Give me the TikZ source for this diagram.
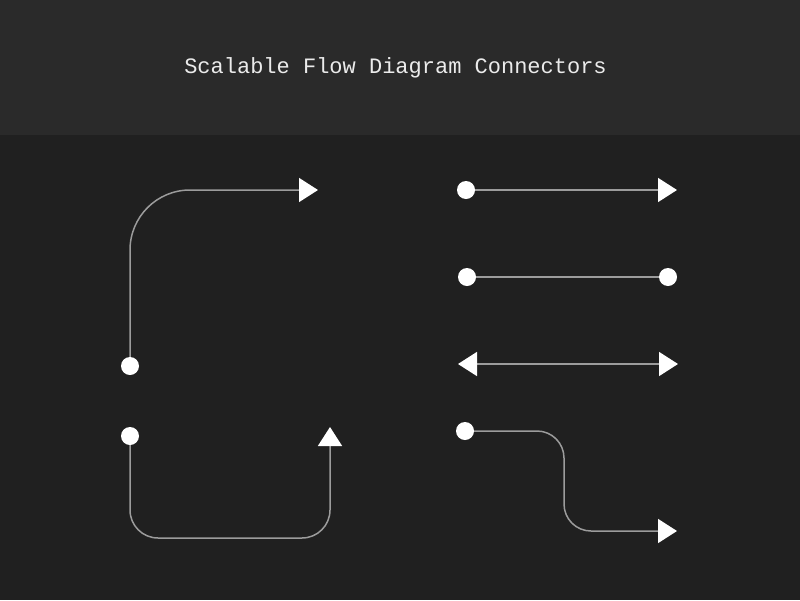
\documentclass[tikz,border=0pt]{standalone}
\usepackage{fontspec}
\setmonofont{Liberation Mono}
\usetikzlibrary{arrows.meta}
\definecolor{headbg}{HTML}{2A2A2A}
\definecolor{bodybg}{HTML}{202020}
\definecolor{wire}{HTML}{9C9C9C}
\tikzset{
  dot/.style={circle,fill=white,minimum size=18pt,inner sep=0pt},
  tip/.tip={Triangle[length=19pt,width=24pt,color=white]},
  conn/.style={draw=wire,line width=1.5pt},
}

\begin{document}
\begin{tikzpicture}[x=1pt,y=-1pt]
				\fill[bodybg] (0,0) rectangle (800,600);
				\fill[headbg] (0,0) rectangle (800,135);
				\node[text=white!92!black,font=\ttfamily\fontsize{22}{26}\selectfont] (title) at (395.5,68) {Scalable Flow Diagram Connectors};
				\node[dot] (a) at (130,366) {};
				\coordinate (a') at (318,190);
				\node[dot] (b) at (130,436) {};
				\coordinate (bm) at (230,538);
				\coordinate (b') at (330,427);
				\node[dot] (c) at (466,190) {};
				\coordinate (c') at (677,190);
				\node[dot] (d) at (467,277) {};
				\node[dot] (d') at (668,277) {};
				\coordinate (e) at (458,364);
				\coordinate (e') at (678,364);
				\node[dot] (f) at (465,431) {};
				\coordinate (f1) at (564,431);
				\coordinate (f2) at (564,531);
				\coordinate (f') at (677,531);
				\draw[conn,-tip,rounded corners=60pt] (a) |- (a');
				\draw[conn,-tip,rounded corners=28pt] (b) |- (bm) -| (b');
				\draw[conn,-tip] (c) -- (c');
				\draw[conn] (d) -- (d');
				\draw[conn,tip-tip] (e) -- (e');
				\draw[conn,-tip,rounded corners=27pt] (f) -- (f1) -- (f2) -- (f');
			\end{tikzpicture}
\end{document}
